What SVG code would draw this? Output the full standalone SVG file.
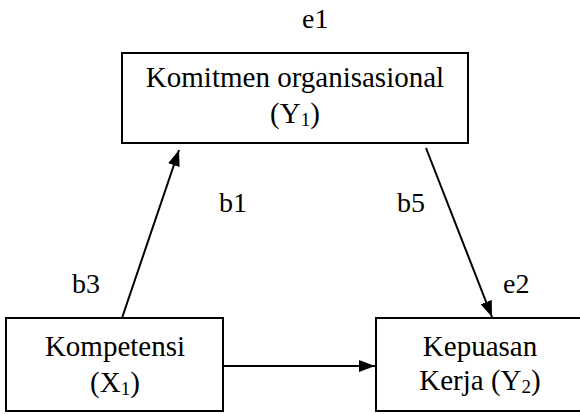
<svg xmlns="http://www.w3.org/2000/svg" width="580" height="414" viewBox="0 0 580 414">
<style>
.box{fill:#fff;stroke:#000;stroke-width:2}
.t{font-family:"Liberation Serif","Times New Roman",serif;font-size:29px;fill:#000;text-anchor:middle}
.l{font-family:"Liberation Serif","Times New Roman",serif;font-size:28px;fill:#000}
.c{stroke:#000;stroke-width:2;fill:none}
.sub{font-size:19px}
</style>
<defs>
<marker id="ah" viewBox="0 0 16 12" refX="16" refY="6" markerWidth="16" markerHeight="12" markerUnits="userSpaceOnUse" orient="auto">
<path d="M0,0 L16,6 L0,12 Z" fill="#000"/>
</marker>
</defs>
<rect width="580" height="414" fill="#fff"/>
<g id="connectors">
<line class="c" x1="122" y1="318" x2="179" y2="150" marker-end="url(#ah)"/>
<line class="c" x1="426" y1="148" x2="492" y2="317" marker-end="url(#ah)"/>
<line class="c" x1="223" y1="366" x2="375" y2="366" marker-end="url(#ah)"/>
</g>
<g id="node-y1">
<rect class="box" x="122" y="53" width="346" height="90"/>
<text class="t" x="295" y="87">Komitmen organisasional</text>
<text class="t" x="295" y="123">(Y<tspan class="sub" dy="3">1</tspan><tspan dy="-3">)</tspan></text>
</g>
<g id="node-x1">
<rect class="box" x="6" y="318" width="217" height="93"/>
<text class="t" x="115" y="356">Kompetensi</text>
<text class="t" x="115" y="392">(X<tspan class="sub" dy="3">1</tspan><tspan dy="-3">)</tspan></text>
</g>
<g id="node-y2">
<rect class="box" x="376" y="318" width="210" height="93"/>
<text class="t" x="480" y="356">Kepuasan</text>
<text class="t" x="480" y="390">Kerja (Y<tspan class="sub" dy="3">2</tspan><tspan dy="-3">)</tspan></text>
</g>
<g id="labels">
<text class="l" x="302" y="28">e1</text>
<text class="l" x="219" y="212">b1</text>
<text class="l" x="397" y="212">b5</text>
<text class="l" x="72" y="293">b3</text>
<text class="l" x="503" y="293">e2</text>
</g>
</svg>
